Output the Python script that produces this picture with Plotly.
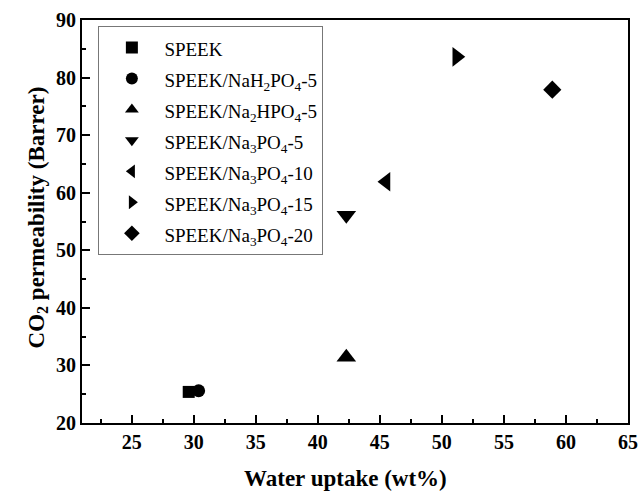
import plotly.graph_objects as go

names = ["SPEEK", "SPEEK/NaH<sub>2</sub>PO<sub>4</sub>-5", "SPEEK/Na<sub>2</sub>HPO<sub>4</sub>-5",
         "SPEEK/Na<sub>3</sub>PO<sub>4</sub>-5", "SPEEK/Na<sub>3</sub>PO<sub>4</sub>-10",
         "SPEEK/Na<sub>3</sub>PO<sub>4</sub>-15", "SPEEK/Na<sub>3</sub>PO<sub>4</sub>-20"]
water_uptake = [29.6, 30.4, 42.3, 42.3, 45.5, 51.2, 58.9]
co2_perm = [25.4, 25.6, 31.4, 56.1, 61.9, 83.6, 77.9]
symbols = ["square", "circle", "triangle-up", "triangle-down", "triangle-left", "triangle-right", "diamond"]
sizes = [12, 13, 17, 17, 17, 17, 14]
x_ticks = [25, 30, 35, 40, 45, 50, 55, 60, 65]
y_ticks = [20, 30, 40, 50, 60, 70, 80, 90]
x_title = "Water uptake (wt%)"
y_title = "CO<sub>2</sub> permeability (Barrer)"

fig = go.Figure()
for n, x, y, s, sz in zip(names, water_uptake, co2_perm, symbols, sizes):
    fig.add_trace(go.Scatter(x=[x], y=[y], mode="markers",
                             name=f'<span style="font-size:19px">{n}</span>',
                             marker=dict(symbol=s, size=sz, color="black")))

serif = "Liberation Serif"
axis_common = dict(showline=True, linecolor="black", linewidth=2, mirror=True,
                   ticks="inside", ticklen=8, tickwidth=2, tickcolor="black",
                   showgrid=False, zeroline=False, automargin=False,
                   tickfont=dict(family=serif, size=20, color="black", weight="bold"),
                   minor=dict(ticks="inside", ticklen=4, tickwidth=2, tickcolor="black"))

fig.update_xaxes(range=[21, 65], tickvals=x_ticks, ticktext=[f"<b>{v}</b>" for v in x_ticks],
                 minor_dtick=2.5, minor_tick0=0, **axis_common)
fig.update_yaxes(range=[20, 90], tickvals=y_ticks, ticktext=[f"<b>{v}</b>" for v in y_ticks],
                 minor_dtick=5, minor_tick0=0, **axis_common)

title_font = dict(family=serif, size=23, color="black")
fig.add_annotation(text=f"<b>{x_title}</b>", xref="paper", yref="paper",
                   x=0.4826, y=-0.1365, xanchor="center", yanchor="middle",
                   showarrow=False, font=title_font)
fig.add_annotation(text=f"<b>{y_title}</b>", xref="paper", yref="paper",
                   x=-0.0806, y=0.51, xanchor="center", yanchor="middle",
                   textangle=-90, showarrow=False, font=title_font)

fig.update_layout(
    width=640, height=492,
    margin=dict(l=82, r=12, t=20, b=69),
    plot_bgcolor="white", paper_bgcolor="white",
    legend=dict(x=0.03, y=0.985, xanchor="left", yanchor="top",
                bordercolor="#777", borderwidth=1, bgcolor="white",
                font=dict(family=serif, size=21.5, color="black"),
                tracegroupgap=0, itemsizing="constant", itemwidth=55),
)

fig.write_html("out.html")
